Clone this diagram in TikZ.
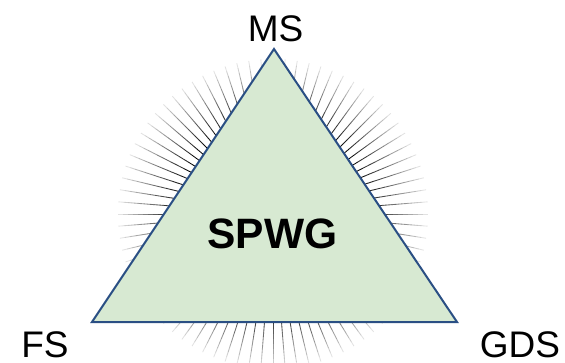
\documentclass[tikz,border=0pt]{standalone}
\usepackage{fontspec}
\setmainfont{Liberation Sans}
\definecolor{trifill}{HTML}{D7E9D2}
\definecolor{triedge}{HTML}{2A4F84}
\tikzset{
  ray/.style={draw=black, line width=0.85pt, line cap=butt},
  tri/.style={fill=trifill, draw=triedge, line width=2pt, line join=miter},
  corner/.style={font=\fontsize{37}{37}\selectfont, anchor=base, inner sep=0pt},
  title/.style={font=\fontsize{42.5}{42.5}\selectfont\bfseries, anchor=base, inner sep=0pt}
}
\begin{document}
\begin{tikzpicture}[x=1pt,y=-1pt]
\useasboundingbox (0,0) rectangle (565,362);
\coordinate (c) at (273,214);
% starburst
\begin{scope}[shift={(c)}]
\clip (-273,-214) rectangle (292,148);
\foreach \a in {0,4.5,...,355.5}{
  \foreach \r in {85,90,...,150}{
    \pgfmathsetmacro{\op}{max(0,min(1,(160-\r-2.5)/66))}
    \draw[ray, opacity=\op] (\a:\r) -- (\a:{\r+5});
  }
}
\end{scope}
% triangle
\coordinate (ms) at (274,49);
\coordinate (fs) at (92,322);
\coordinate (gds) at (457,322);
\draw[tri] (ms) -- (gds) -- (fs) -- cycle;
% labels
\node[corner] (lms) at (275.5,41) {MS};
\node[corner] (lfs) at (45,357.5) {FS};
\node[corner] (lgds) at (520,357.5) {GDS};
\node[title] (spwg) at (272.5,248) {SPWG};
\end{tikzpicture}
\end{document}
